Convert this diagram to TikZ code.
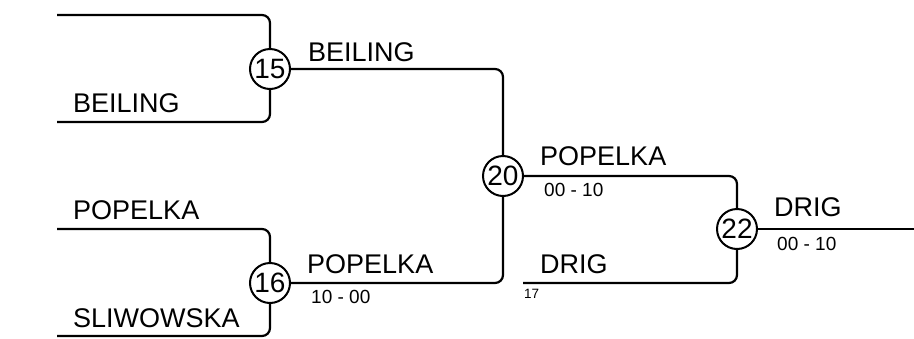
\documentclass[tikz,border=0pt]{standalone}
\usepackage{fontspec}
\setmainfont{Liberation Sans}
\tikzset{
  game/.style={circle,draw,line width=2pt,minimum size=40pt,inner sep=0pt,font=\fontsize{28}{28}\selectfont},
  player/.style={anchor=base west,inner sep=0pt,font=\fontsize{27}{27}\selectfont},
  score/.style={anchor=base west,inner sep=0pt,font=\fontsize{19}{19}\selectfont},
  seed/.style={anchor=base west,inner sep=0pt,font=\fontsize{13.5}{13.5}\selectfont},
  wire/.style={line width=2.2pt,rounded corners=8pt}
}
\begin{document}
\begin{tikzpicture}[x=1pt,y=-1pt]
 \useasboundingbox (0,0) rectangle (914,338);

 \node[game] (m15) at (270,69) {15};
 \node[game] (m16) at (270,283) {16};
 \node[game] (m20) at (503,176) {20};
 \node[game] (m22) at (737,229) {22};

 \coordinate (a1) at (57,15);
 \coordinate (a2) at (57,122);
 \coordinate (a3) at (57,229);
 \coordinate (a4) at (57,336);
 \coordinate (b1) at (523,283);
 \coordinate (fin) at (914,229);

 \draw[wire] (a1) -| (m15);
 \draw[wire] (a2) -| (m15);
 \draw[wire] (a3) -| (m16);
 \draw[wire] (a4) -| (m16);
 \draw[wire] (m15) -| (m20);
 \draw[wire] (m16) -| (m20);
 \draw[wire] (m20) -| (m22);
 \draw[wire] (b1) -| (m22);
 \draw[wire] (m22) -- (fin);

 % names
 \node[player] (n1) at (73,112) {BEILING};
 \node[player] (n2) at (73,219) {POPELKA};
 \node[player] (n3) at (73,327) {SLIWOWSKA};
 \node[player] (n4) at (308,61) {BEILING};
 \node[player] (n5) at (307,273) {POPELKA};
 \node[player] (n6) at (540,165) {POPELKA};
 \node[player] (n7) at (540,273) {DRIG};
 \node[player] (n8) at (774,216) {DRIG};

 % scores
 \node[score] (s16) at (311,303) {10 - 00};
 \node[score] (s20) at (544,196) {00 - 10};
 \node[score] (s22) at (777,250) {00 - 10};
 \node[seed] (g17) at (524,298) {17};
\end{tikzpicture}
\end{document}
